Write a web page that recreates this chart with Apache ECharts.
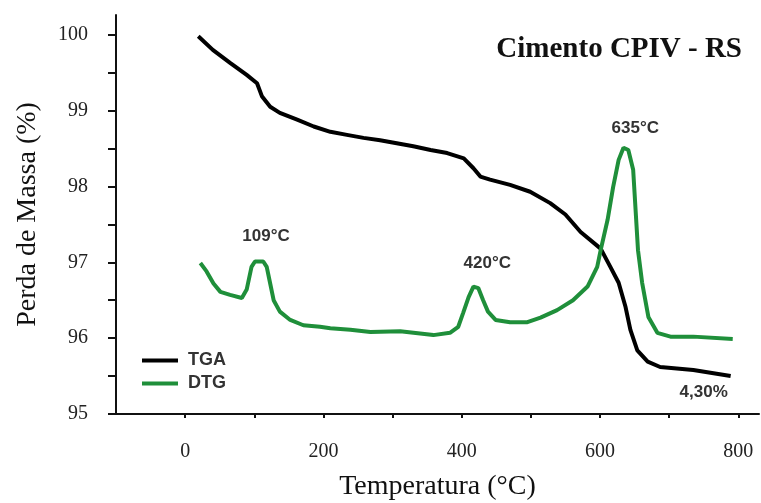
<!DOCTYPE html>
<html>
<head>
<meta charset="utf-8">
<script src="https://cdn.jsdelivr.net/npm/echarts@6/dist/echarts.min.js"></script>
<style>
  html, body { margin: 0; padding: 0; background: #fff; }
  #chart { width: 761px; height: 503px; }
</style>
</head>
<body>
<div id="chart"></div>
<script>
// TGA curve [temperature, mass %]
const tga = [
  [19, 99.98], [40, 99.80], [65, 99.63], [89, 99.47], [104, 99.36], [111, 99.19],
  [123, 99.05], [137, 98.97], [162, 98.88], [186, 98.79], [210, 98.72], [234, 98.68],
  [258, 98.64], [282, 98.61], [306, 98.57], [330, 98.53], [355, 98.48], [379, 98.44],
  [403, 98.37], [417, 98.24], [427, 98.13], [441, 98.09], [470, 98.02], [499, 97.93],
  [528, 97.78], [550, 97.63], [572, 97.40], [601, 97.18], [615, 96.94], [627, 96.73],
  [637, 96.41], [644, 96.11], [654, 95.84], [669, 95.69], [687, 95.62], [735, 95.58],
  [789, 95.50]
];
// DTG curve, drawn on the same scale
const dtg = [
  [22, 96.99], [31, 96.88], [41, 96.72], [51, 96.61], [65, 96.57], [82, 96.53],
  [89, 96.64], [96, 96.94], [101, 97.01], [113, 97.01], [118, 96.94], [123, 96.72],
  [128, 96.50], [137, 96.35], [152, 96.24], [171, 96.17], [195, 96.15], [210, 96.13],
  [239, 96.11], [268, 96.08], [311, 96.09], [359, 96.04], [383, 96.07], [395, 96.15],
  [402, 96.33], [410, 96.54], [417, 96.68], [424, 96.66], [431, 96.50], [438, 96.35],
  [449, 96.24], [470, 96.21], [495, 96.21], [514, 96.27], [538, 96.37], [561, 96.50],
  [582, 96.68], [596, 96.94], [601, 97.16], [611, 97.56], [619, 97.99], [627, 98.35],
  [634, 98.51], [641, 98.48], [648, 98.22], [655, 97.16], [661, 96.73], [670, 96.28],
  [683, 96.07], [702, 96.02], [735, 96.02], [792, 95.99]
];
// peak labels [x, y, text]
const dtgNotes = [[117, 97.34, '109°C'], [437, 96.98, '420°C'], [651, 98.76, '635°C']];
const tgaNotes = [[750, 95.28, '4,30%']];

const xTicks = [0, 100, 200, 300, 400, 500, 600, 700, 800];
const xLabels = [0, 200, 400, 600, 800];
const yTicks = [95, 95.5, 96, 96.5, 97, 97.5, 98, 98.5, 99, 99.5, 100];
const yLabels = [95, 96, 97, 98, 99, 100];

const serif = '"Liberation Serif", "Times New Roman", serif';
const sans = '"Liberation Sans", Arial, sans-serif';
const green = '#1f8f3a';

function notes(list) {
  return {
    symbol: 'circle',
    symbolSize: 0,
    itemStyle: { color: 'transparent' },
    label: {
      show: true, position: 'inside', formatter: p => p.name,
      fontFamily: sans, fontWeight: 'bold', fontSize: 17, color: '#333'
    },
    data: list.map(n => ({ coord: [n[0], n[1]], name: n[2] }))
  };
}

const option = {
  animation: false,
  title: {
    text: 'Cimento CPIV - RS',
    right: 14,
    top: 30,
    textStyle: { fontFamily: serif, fontWeight: 'bold', fontSize: 29, color: '#111' }
  },
  legend: {
    orient: 'vertical',
    left: 137,
    top: 344,
    icon: 'rect',
    itemWidth: 36,
    itemHeight: 4,
    itemGap: 0,
    textStyle: {
      fontFamily: sans, fontWeight: 'bold', fontSize: 18, color: '#333',
      lineHeight: 23, padding: [0, 0, 0, 5]
    },
    data: ['TGA', 'DTG']
  },
  grid: { left: 116, right: 2, top: 15, bottom: 89, outerBoundsMode: 'none' },
  xAxis: {
    type: 'value',
    min: -100,
    max: 830,
    name: 'Temperatura (°C)',
    nameLocation: 'middle',
    nameGap: 59,
    nameTextStyle: { fontFamily: serif, fontSize: 28, color: '#111' },
    splitLine: { show: false },
    axisLine: { onZero: false, lineStyle: { color: '#111', width: 2 } },
    axisTick: { customValues: xTicks, length: 4, lineStyle: { color: '#111', width: 2 } },
    axisLabel: { customValues: xLabels, margin: 28, fontFamily: serif, fontSize: 20, color: '#222' }
  },
  yAxis: {
    type: 'value',
    min: 95,
    max: 100.26,
    name: 'Perda de Massa (%)',
    nameLocation: 'middle',
    nameRotate: 90,
    nameGap: 74,
    nameTextStyle: { fontFamily: serif, fontSize: 28, color: '#111' },
    splitLine: { show: false },
    axisLine: { show: true, onZero: false, lineStyle: { color: '#111', width: 2 } },
    axisTick: { customValues: yTicks, length: 8, lineStyle: { color: '#111', width: 2 } },
    axisLabel: { customValues: yLabels, margin: 28, fontFamily: serif, fontSize: 20, color: '#222' }
  },
  series: [
    {
      name: 'TGA', type: 'line', data: tga, symbol: 'none',
      lineStyle: { color: '#000', width: 4 }, itemStyle: { color: '#000' },
      markPoint: notes(tgaNotes)
    },
    {
      name: 'DTG', type: 'line', data: dtg, symbol: 'none',
      lineStyle: { color: green, width: 4 }, itemStyle: { color: green },
      markPoint: notes(dtgNotes)
    }
  ]
};

echarts.init(document.getElementById('chart')).setOption(option);
</script>
</body>
</html>
